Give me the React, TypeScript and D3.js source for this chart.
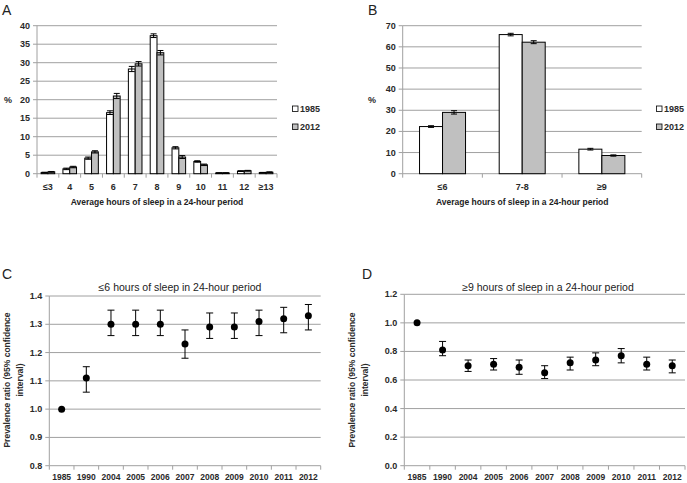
import React from "react";
import * as d3 from "d3";

const catsA = ["≤3", "4", "5", "6", "7", "8", "9", "10", "11", "12", "≥13"];
const a1985 = [0.3, 1.3, 4.2, 16.5, 28.3, 37.3, 7.0, 3.3, 0.2, 0.7, 0.3];
const a2012 = [0.5, 1.8, 5.9, 21.0, 29.7, 32.7, 4.5, 2.4, 0.2, 0.8, 0.4];
const a1985Err = [0.1, 0.2, 0.3, 0.5, 0.7, 0.5, 0.3, 0.2, 0.05, 0.1, 0.05];
const a2012Err = [0.1, 0.2, 0.3, 0.7, 0.6, 0.6, 0.4, 0.2, 0.05, 0.1, 0.1];
const yTicksA = [0, 5, 10, 15, 20, 25, 30, 35, 40];

const catsB = ["≤6", "7-8", "≥9"];
const b1985 = [22.3, 65.8, 11.6];
const b2012 = [29.0, 62.2, 8.6];
const b1985Err = [0.4, 0.6, 0.4];
const b2012Err = [0.8, 0.7, 0.3];
const yTicksB = [0, 10, 20, 30, 40, 50, 60, 70];

const years = ["1985", "1990", "2004", "2005", "2006", "2007", "2008", "2009", "2010", "2011", "2012"];
const cVal = [1.0, 1.11, 1.3, 1.3, 1.3, 1.23, 1.29, 1.29, 1.31, 1.32, 1.33];
const cLo = [1.0, 1.06, 1.26, 1.26, 1.26, 1.18, 1.25, 1.25, 1.26, 1.27, 1.28];
const cHi = [1.0, 1.15, 1.35, 1.35, 1.35, 1.28, 1.34, 1.34, 1.35, 1.36, 1.37];
const yTicksC = [0.8, 0.9, 1.0, 1.1, 1.2, 1.3, 1.4];

const dVal = [1.0, 0.81, 0.7, 0.71, 0.69, 0.65, 0.72, 0.74, 0.77, 0.71, 0.7];
const dLo = [1.0, 0.77, 0.66, 0.67, 0.64, 0.61, 0.67, 0.7, 0.72, 0.67, 0.65];
const dHi = [1.0, 0.87, 0.74, 0.75, 0.74, 0.7, 0.76, 0.79, 0.82, 0.76, 0.74];
const yTicksD = [0, 0.2, 0.4, 0.6, 0.8, 1.0, 1.2];

const seriesNames = ["1985", "2012"];
const FONT = "'Liberation Sans', Arial, sans-serif";
const GRID = "#a0a0a0";
const GREY_FILL = "#c0c0c0";
const TXT = "#2a2a2a";

type BarProps = {
  cats: string[];
  s1: number[];
  s2: number[];
  e1: number[];
  e2: number[];
  ticks: number[];
  x0: number;
  x1: number;
  yMax: number;
  barW: number;
  capW: number;
  legendX: number;
  letter: string;
  letterX: number;
  pctX: number;
};

function BarPanel(p: BarProps) {
  const y = d3.scaleLinear().domain([0, p.yMax]).range([173.7, 25.7]);
  const x = d3.scaleBand<string>().domain(p.cats).range([p.x0, p.x1]).padding(0);
  const bw = x.bandwidth();
  const sub = d3.scaleBand<string>().domain(seriesNames).range([0, p.barW * 2]).padding(0);
  const off = (bw - p.barW * 2) / 2;
  const series = [
    { name: "1985", vals: p.s1, errs: p.e1, fill: "#ffffff" },
    { name: "2012", vals: p.s2, errs: p.e2, fill: GREY_FILL },
  ];
  const boundaries = d3.range(p.cats.length + 1).map((i) => p.x0 + i * bw);
  return (
    <g>
      <text x={p.letterX} y={15} fontSize={14} fontFamily={FONT} fill="#222">{p.letter}</text>
      {p.ticks.map((t) => (
        <g key={t}>
          {t > 0 && <line x1={p.x0} x2={p.x1} y1={y(t)} y2={y(t)} stroke={GRID} strokeWidth={1} />}
          <line x1={p.x0 - 4} x2={p.x0} y1={y(t)} y2={y(t)} stroke={GRID} />
          <text x={p.x0 - 7} y={y(t) + 3} textAnchor="end" fontSize={9} fontWeight="bold" fontFamily={FONT} fill={TXT}>{t}</text>
        </g>
      ))}
      <line x1={p.x0} x2={p.x0} y1={y(p.yMax)} y2={y(0)} stroke={GRID} />
      <line x1={p.x0} x2={p.x1} y1={y(0)} y2={y(0)} stroke={GRID} />
      {boundaries.map((b, i) => (
        <line key={i} x1={b} x2={b} y1={y(0)} y2={y(0) + 4} stroke={GRID} />
      ))}
      <text x={p.pctX} y={y(p.yMax / 2) + 3} fontSize={9} fontWeight="bold" fontFamily={FONT} fill={TXT}>%</text>
      {series.map((s) => (
        <g key={s.name}>
          {s.vals.map((v, i) => {
            const bx = (x(p.cats[i]) as number) + off + (sub(s.name) as number);
            const cx = bx + p.barW / 2;
            return (
              <g key={i}>
                <rect x={bx} y={y(v)} width={p.barW} height={y(0) - y(v)} fill={s.fill} stroke="#000" strokeWidth={1} />
                <line x1={cx} x2={cx} y1={y(v + s.errs[i])} y2={y(v - s.errs[i])} stroke="#000" strokeWidth={1} />
                <line x1={cx - p.capW / 2} x2={cx + p.capW / 2} y1={y(v + s.errs[i])} y2={y(v + s.errs[i])} stroke="#000" strokeWidth={1} />
                <line x1={cx - p.capW / 2} x2={cx + p.capW / 2} y1={y(v - s.errs[i])} y2={y(v - s.errs[i])} stroke="#000" strokeWidth={1} />
              </g>
            );
          })}
        </g>
      ))}
      {p.cats.map((c) => (
        <text key={c} x={(x(c) as number) + bw / 2} y={190} textAnchor="middle" fontSize={9} fontWeight="bold" fontFamily={FONT} fill={TXT}>{c}</text>
      ))}
      <text x={(p.x0 + p.x1) / 2} y={205} textAnchor="middle" fontSize={8.5} fontWeight="bold" fontFamily={FONT} fill="#222">Average hours of sleep in a 24-hour period</text>
      {series.map((s, i) => (
        <g key={s.name}>
          <rect x={p.legendX} y={106 + i * 18} width={5.5} height={5.5} fill={s.fill} stroke="#000" strokeWidth={0.8} />
          <text x={p.legendX + 7.5} y={112 + i * 18} fontSize={9} fontWeight="bold" fontFamily={FONT} fill={TXT}>{s.name}</text>
        </g>
      ))}
    </g>
  );
}

type PtProps = {
  vals: number[];
  lo: number[];
  hi: number[];
  ticks: number[];
  x0: number;
  x1: number;
  yMin: number;
  yMax: number;
  title: string;
  titleX: number;
  letter: string;
  letterX: number;
  labelX: number;
  yTop: number;
};

function PointPanel(p: PtProps) {
  const y = d3.scaleLinear().domain([p.yMin, p.yMax]).range([465.7, p.yTop]);
  const x = d3.scaleBand<string>().domain(years).range([p.x0, p.x1]).padding(0);
  const bw = x.bandwidth();
  const boundaries = d3.range(years.length + 1).map((i) => p.x0 + i * bw);
  const cy = 380;
  return (
    <g>
      <text x={p.letterX} y={279} fontSize={14} fontFamily={FONT} fill="#222">{p.letter}</text>
      <text x={p.titleX} y={291} textAnchor="middle" fontSize={10.5} fontFamily={FONT} fill="#222">{p.title}</text>
      {p.ticks.map((t) => (
        <g key={t}>
          {t > p.yMin && <line x1={p.x0} x2={p.x1} y1={y(t)} y2={y(t)} stroke={GRID} strokeWidth={1} />}
          <line x1={p.x0 - 4} x2={p.x0} y1={y(t)} y2={y(t)} stroke={GRID} />
          <text x={p.x0 - 7} y={y(t) + 3} textAnchor="end" fontSize={9} fontWeight="bold" fontFamily={FONT} fill={TXT}>{t.toFixed(1)}</text>
        </g>
      ))}
      <line x1={p.x0} x2={p.x0} y1={y(p.yMax)} y2={y(p.yMin)} stroke={GRID} />
      <line x1={p.x0} x2={p.x1} y1={y(p.yMin)} y2={y(p.yMin)} stroke={GRID} />
      {boundaries.map((b, i) => (
        <line key={i} x1={b} x2={b} y1={y(p.yMin)} y2={y(p.yMin) + 4} stroke={GRID} />
      ))}
      <g transform={`translate(${p.labelX},${cy}) rotate(-90)`}>
        <text x={0} y={0} textAnchor="middle" fontSize={8.5} fontWeight="bold" fontFamily={FONT} fill={TXT}>Prevalence ratio (95% confidence</text>
        <text x={0} y={13} textAnchor="middle" fontSize={8.5} fontWeight="bold" fontFamily={FONT} fill={TXT}>interval)</text>
      </g>
      {p.vals.map((v, i) => {
        const cx = (x(years[i]) as number) + bw / 2;
        const hasErr = p.hi[i] !== p.lo[i];
        return (
          <g key={i}>
            {hasErr && (
              <g stroke="#000" strokeWidth={1}>
                <line x1={cx} x2={cx} y1={y(p.hi[i])} y2={y(p.lo[i])} />
                <line x1={cx - 3.5} x2={cx + 3.5} y1={y(p.hi[i])} y2={y(p.hi[i])} />
                <line x1={cx - 3.5} x2={cx + 3.5} y1={y(p.lo[i])} y2={y(p.lo[i])} />
              </g>
            )}
            <circle cx={cx} cy={y(v)} r={3.5} fill="#000" />
          </g>
        );
      })}
      {years.map((yr) => (
        <text key={yr} x={(x(yr) as number) + bw / 2} y={480} textAnchor="middle" fontSize={8.5} fontWeight="bold" fontFamily={FONT} fill={TXT}>{yr}</text>
      ))}
    </g>
  );
}

export default function App() {
  return (
    <svg width={687} height={483} style={{ position: "absolute", left: 0, top: 0, background: "#fff" }}>
      <rect x={0} y={0} width={687} height={483} fill="#fff" />
      <BarPanel cats={catsA} s1={a1985} s2={a2012} e1={a1985Err} e2={a2012Err} ticks={yTicksA}
        x0={37} x1={277} yMax={40} barW={6.8} capW={6} legendX={292.5} letter="A" letterX={2} pctX={4} />
      <BarPanel cats={catsB} s1={b1985} s2={b2012} e1={b1985Err} e2={b2012Err} ticks={yTicksB}
        x0={402.7} x1={641.7} yMax={70} barW={23} capW={6} legendX={656.5} letter="B" letterX={368} pctX={368} />
      <PointPanel vals={cVal} lo={cLo} hi={cHi} ticks={yTicksC} x0={49.3} x1={320.7} yMin={0.8} yMax={1.4}
        title="≤6 hours of sleep in 24-hour period" titleX={180} letter="C" letterX={2} labelX={10} yTop={296} />
      <PointPanel vals={dVal} lo={dLo} hi={dHi} ticks={yTicksD} x0={404.3} x1={685} yMin={0} yMax={1.2}
        title="≥9 hours of sleep in a 24-hour period" titleX={548} letter="D" letterX={362} labelX={355} yTop={294.3} />
    </svg>
  );
}
